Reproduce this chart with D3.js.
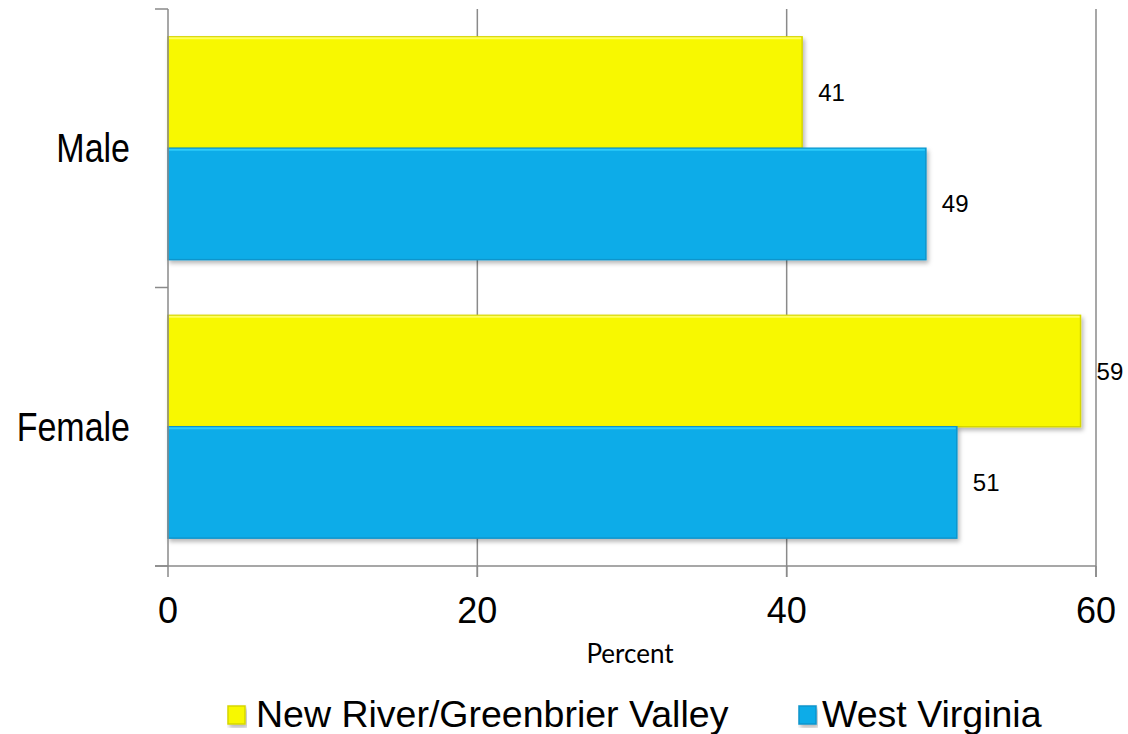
<!DOCTYPE html>
<html>
<head>
<meta charset="utf-8">
<script src="https://cdn.jsdelivr.net/npm/d3@7/dist/d3.min.js"></script>
<style>
  html, body { margin: 0; padding: 0; background: #fff; }
  svg { display: block; }
</style>
</head>
<body>
<svg id="chart" width="1128" height="734"></svg>
<script>
// ---- data ----
const categories = ["Male", "Female"];
const seriesNames = ["New River/Greenbrier Valley", "West Virginia"];
const nrgvValues = [41, 59];
const wvValues = [49, 51];
const xTicks = [0, 20, 40, 60];
const axisTitle = "Percent";

const seriesColors = ["#F8F800", "#0AACE8"];
const seriesStroke = ["#D6D600", "#0B95CC"];
const seriesValues = [nrgvValues, wvValues];

const svg = d3.select("#chart");
const fontMain = "'Liberation Sans', Arial, sans-serif";

const plotLeft = 168, plotRight = 1096, plotTop = 9, plotBottom = 566;

const x = d3.scaleLinear().domain([0, 60]).range([plotLeft, plotRight]);
const y0 = d3.scaleBand().domain(categories).range([plotTop, plotBottom]).padding(0);
const y1 = d3.scaleBand().domain(seriesNames).range([0, y0.bandwidth()]).paddingInner(0).paddingOuter(0.25);

// defs: shadow
const defs = svg.append("defs");
const f = defs.append("filter").attr("id", "shadow").attr("x", "-5%").attr("y", "-10%").attr("width", "115%").attr("height", "130%");
f.append("feDropShadow").attr("dx", 2).attr("dy", 3).attr("stdDeviation", 2).attr("flood-color", "#000").attr("flood-opacity", 0.28);

// gridlines
svg.append("g").selectAll("line").data(xTicks.filter(d => d > 0)).join("line")
  .attr("x1", d => x(d)).attr("x2", d => x(d))
  .attr("y1", plotTop).attr("y2", plotBottom + 11)
  .attr("stroke", "#8a8a8a").attr("stroke-width", 1.5);

// bars
const rows = [];
categories.forEach((c, i) => {
  seriesNames.forEach((s, j) => rows.push({cat: c, ser: s, j, v: seriesValues[j][i]}));
});

const bars = svg.append("g");
bars.selectAll("rect").data(rows).join("rect")
  .attr("x", x(0))
  .attr("y", d => y0(d.cat) + y1(d.ser))
  .attr("width", d => x(d.v) - x(0))
  .attr("height", y1.bandwidth())
  .attr("fill", d => seriesColors[d.j])
  .attr("stroke", d => seriesStroke[d.j])
  .attr("stroke-width", 1.5)
  .attr("filter", "url(#shadow)");

// highlight top edge
bars.selectAll("line.hl").data(rows).join("line").attr("class", "hl")
  .attr("x1", x(0) + 1).attr("x2", d => x(d.v) - 1)
  .attr("y1", d => y0(d.cat) + y1(d.ser) + 1.5)
  .attr("y2", d => y0(d.cat) + y1(d.ser) + 1.5)
  .attr("stroke", d => d.j === 0 ? "#FFFF60" : "#2CCBFA")
  .attr("stroke-width", 2);

// value labels
svg.append("g").selectAll("text").data(rows).join("text")
  .attr("x", d => x(d.v) + 16)
  .attr("y", d => y0(d.cat) + y1(d.ser) + y1.bandwidth() / 2 + 8.5)
  .attr("font-family", fontMain)
  .attr("font-size", 24)
  .attr("fill", "#000")
  .text(d => d.v);

// y axis line and ticks
const axisColor = "#8a8a8a";
svg.append("line").attr("x1", plotLeft).attr("x2", plotLeft).attr("y1", plotTop).attr("y2", plotBottom)
  .attr("stroke", axisColor).attr("stroke-width", 1.5);
const yTickPos = [plotTop, y0(categories[1]), plotBottom];
svg.append("g").selectAll("line").data(yTickPos).join("line")
  .attr("x1", plotLeft - 13).attr("x2", plotLeft).attr("y1", d => d).attr("y2", d => d)
  .attr("stroke", axisColor).attr("stroke-width", 1.5);

// x axis line and ticks
svg.append("line").attr("x1", plotLeft - 13).attr("x2", plotRight).attr("y1", plotBottom).attr("y2", plotBottom)
  .attr("stroke", axisColor).attr("stroke-width", 1.5);
svg.append("g").selectAll("line").data(xTicks).join("line")
  .attr("x1", d => x(d)).attr("x2", d => x(d)).attr("y1", plotBottom).attr("y2", plotBottom + 11)
  .attr("stroke", axisColor).attr("stroke-width", 1.5);

// x tick labels
svg.append("g").selectAll("text").data(xTicks).join("text")
  .attr("x", d => x(d)).attr("y", 623)
  .attr("text-anchor", "middle")
  .attr("font-family", fontMain).attr("font-size", 36).attr("fill", "#000")
  .text(d => d);

// category labels
svg.append("g").selectAll("text").data(categories).join("text")
  .attr("transform", d => `translate(130,${y0(d) + y0.bandwidth() / 2 + 14}) scale(0.85,1)`)
  .attr("text-anchor", "end")
  .attr("font-family", fontMain).attr("font-size", 40).attr("fill", "#000")
  .text(d => d);

// axis title
svg.append("text").attr("x", 630).attr("y", 663).attr("text-anchor", "middle")
  .attr("font-family", "Lato, 'Open Sans', sans-serif").attr("font-size", 26).attr("fill", "#000")
  .text(axisTitle);

// legend
const legendItems = [
  {name: seriesNames[0], mx: 228, tx: 256, j: 0},
  {name: seriesNames[1], mx: 799, tx: 822, j: 1}
];
const lg = svg.append("g");
lg.selectAll("rect").data(legendItems).join("rect")
  .attr("x", d => d.mx).attr("y", 706).attr("width", 17).attr("height", 18)
  .attr("fill", d => seriesColors[d.j]).attr("stroke", d => seriesStroke[d.j]).attr("stroke-width", 1.5)
  .attr("filter", "url(#shadow)");
lg.selectAll("text").data(legendItems).join("text")
  .attr("x", d => d.tx).attr("y", 727)
  .attr("font-family", fontMain).attr("font-size", 37.5).attr("fill", "#000")
  .text(d => d.name);
</script>
</body>
</html>
